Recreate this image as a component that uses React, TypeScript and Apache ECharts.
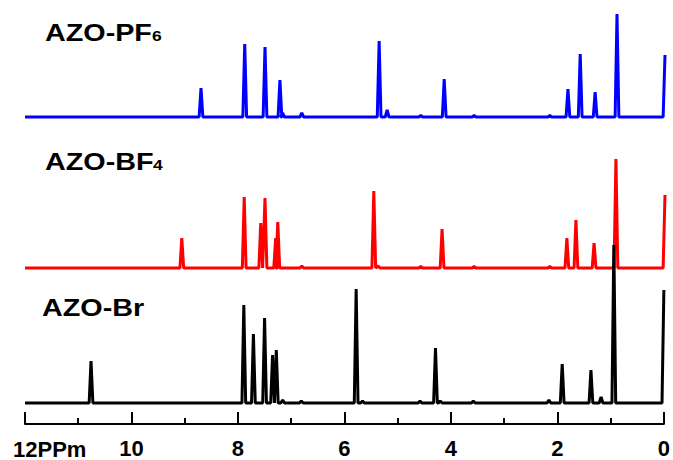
import React, { useEffect, useRef } from "react";
import * as echarts from "echarts";

// Chemical-shift window (ppm), drawn high-to-low as in an NMR plot
const PPM_MIN = 0;
const PPM_MAX = 12;
const PPM_STEP = 2;

// Sample names
const sampleNames = ["AZO-PF", "AZO-BF", "AZO-Br"];
const sampleSubscripts = ["6", "4", ""];

// 1H NMR peak lists: chemical shift (ppm) and relative intensity
const pf6Shifts = [8.7, 7.88, 7.5, 7.22, 7.17, 6.81, 5.36, 5.21, 4.58, 4.14, 3.58, 2.16, 1.82, 1.59, 1.31, 0.9, 0];
const pf6Heights = [29, 73, 70, 37, 4, 4, 76, 7, 1.5, 38, 1.5, 1.5, 28, 63, 25, 103, 62];

const bf4Shifts = [9.06, 7.89, 7.58, 7.5, 7.3, 7.26, 6.81, 5.46, 5.38, 4.58, 4.18, 3.58, 2.16, 1.84, 1.67, 1.33, 0.92, 0];
const bf4Heights = [30, 71, 45, 70, 30, 46, 2, 77, 2, 1.5, 39, 1.5, 1.5, 30, 48, 25, 109, 73];

const brShifts = [10.76, 7.89, 7.71, 7.5, 7.35, 7.28, 7.16, 6.81, 5.78, 5.66, 4.58, 4.29, 4.2, 3.58, 2.16, 1.91, 1.37, 1.18, 0.94, 0];
const brHeights = [42, 98, 69, 85, 48, 53, 3, 2, 114, 2, 2, 55, 2, 2, 3, 39, 33, 6, 158, 113];

const PEAK_HALF_WIDTH = 0.035;

function buildSpectrum(shifts: number[], heights: number[]): number[][] {
  const pts: number[][] = [[PPM_MAX, 0]];
  shifts.forEach((p, i) => {
    pts.push([p + PEAK_HALF_WIDTH, 0]);
    pts.push([p, heights[i]]);
    if (p - PEAK_HALF_WIDTH >= PPM_MIN) pts.push([p - PEAK_HALF_WIDTH, 0]);
  });
  return pts;
}

const FONT = "'Liberation Sans', Arial, Helvetica, sans-serif";

export default function App() {
  const ref = useRef<HTMLDivElement>(null);

  useEffect(() => {
    if (!ref.current) return;
    const chart = echarts.init(ref.current, undefined, { renderer: "svg" });

    const gridBase = { left: 25, right: 8 };
    const grids = [
      { ...gridBase, top: 7, height: 110 },
      { ...gridBase, top: 148, height: 120 },
      { ...gridBase, top: 233, height: 170 },
    ];

    const hiddenX = (i: number) => ({
      type: "value" as const,
      gridIndex: i,
      min: PPM_MIN,
      max: PPM_MAX,
      inverse: true,
      show: false,
    });

    const titleY = [33, 162.5, 308];
    const titleX = [45, 45, 42];
    const subX = [152, 153, 0];
    const titleGraphics: any[] = [];
    sampleNames.forEach((name, i) => {
      titleGraphics.push({
        type: "text",
        x: titleX[i],
        y: titleY[i],
        scaleX: 1.25,
        style: {
          text: name,
          fontFamily: FONT,
          fontWeight: "bold",
          fontSize: 23,
          fill: "#000",
          verticalAlign: "middle",
          align: "left",
        },
      });
      if (sampleSubscripts[i]) {
        titleGraphics.push({
          type: "text",
          x: subX[i],
          y: titleY[i] + 3,
          scaleX: 1.25,
          style: {
            text: sampleSubscripts[i],
            fontFamily: FONT,
            fontWeight: "bold",
            fontSize: 14,
            fill: "#000",
            verticalAlign: "middle",
            align: "left",
          },
        });
      }
    });

    chart.setOption({
      animation: false,
      backgroundColor: "#fff",
      grid: grids,
      xAxis: [
        hiddenX(0),
        hiddenX(1),
        {
          type: "value",
          gridIndex: 2,
          min: PPM_MIN,
          max: PPM_MAX,
          interval: PPM_STEP,
          inverse: true,
          offset: 21,
          axisLine: { show: true, onZero: false, lineStyle: { color: "#000", width: 2 } },
          axisTick: { show: true, inside: true, length: 12, lineStyle: { color: "#000", width: 2 } },
          minorTick: { show: true, splitNumber: 2, length: 6, lineStyle: { color: "#000", width: 2 } },
          splitLine: { show: false },
          axisLabel: {
            margin: 13,
            color: "#000",
            fontFamily: FONT,
            fontWeight: "bold",
            fontSize: 22,
            formatter: (v: number) => (v === PPM_MAX ? "" : String(v)),
          },
        },
      ],
      yAxis: grids.map((g, i) => ({
        type: "value",
        gridIndex: i,
        min: 0,
        max: g.height,
        show: false,
      })),
      graphic: [
        ...titleGraphics,
        {
          type: "text",
          x: 13,
          y: 449,
          style: {
            text: PPM_MAX + "PPm",
            fontFamily: FONT,
            fontWeight: "bold",
            fontSize: 22,
            fill: "#000",
            verticalAlign: "middle",
            align: "left",
          },
        },
      ],
      series: [
        {
          type: "line",
          xAxisIndex: 0,
          yAxisIndex: 0,
          data: buildSpectrum(pf6Shifts, pf6Heights),
          showSymbol: false,
          clip: false,
          lineStyle: { color: "#0000ff", width: 3 },
          z: 2,
        },
        {
          type: "line",
          xAxisIndex: 1,
          yAxisIndex: 1,
          data: buildSpectrum(bf4Shifts, bf4Heights),
          showSymbol: false,
          clip: false,
          lineStyle: { color: "#ff0000", width: 3 },
          z: 2,
        },
        {
          type: "line",
          xAxisIndex: 2,
          yAxisIndex: 2,
          data: buildSpectrum(brShifts, brHeights),
          showSymbol: false,
          clip: false,
          lineStyle: { color: "#000000", width: 3 },
          z: 3,
        },
      ],
    });

    return () => chart.dispose();
  }, []);

  return (
    <div
      ref={ref}
      style={{ position: "absolute", left: 0, top: 0, width: 673, height: 460, background: "#fff" }}
    />
  );
}
